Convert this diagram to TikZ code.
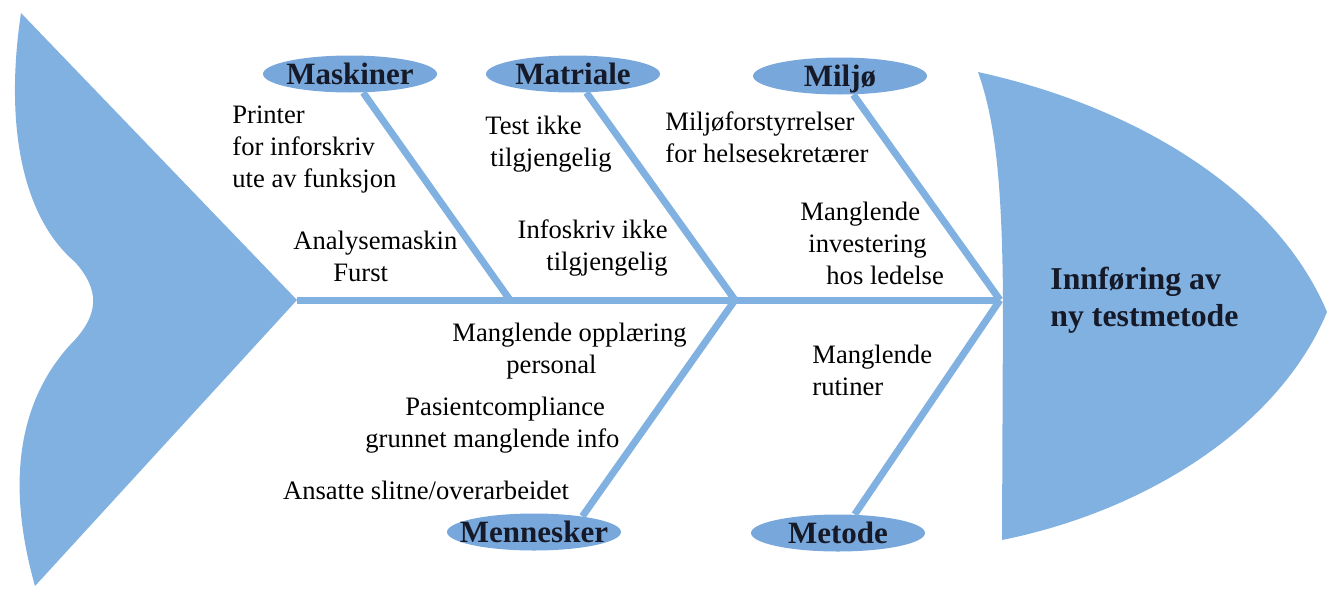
\documentclass[tikz,border=0pt]{standalone}
\usepackage{fontspec}
\setmainfont{Liberation Serif}
\usetikzlibrary{shapes.geometric}
\definecolor{fishblue}{RGB}{128,177,225}
\definecolor{capblue}{RGB}{120,168,219}
\definecolor{inkdark}{RGB}{22,26,40}

\begin{document}
\begin{tikzpicture}[x=0.5pt, y=-0.5pt,
    cause/.style={ellipse, fill=capblue, minimum width=87pt, minimum height=18.5pt,
        inner sep=0pt, text height=10pt, text depth=0pt, text=inkdark,
        font=\fontsize{15.5}{18}\selectfont\bfseries},
    bone/.style={draw=fishblue, line width=3.5pt},
    note/.style={font=\fontsize{13.3}{16}\selectfont, inner sep=0pt}]
    \useasboundingbox (0,0) rectangle (1342,589);

    % draw tail
    \fill[fishblue] (21,13) -- (297,300) -- (35,586)
        .. controls (5,480) and (20,400) .. (70,345)
        .. controls (100,315) and (100,290) .. (75,262)
        .. controls (20,215) and (5,120) .. (21,13) -- cycle;
    % draw head
    \fill[fishblue] (978,72) .. controls (1150,110) and (1280,200) .. (1327,312)
        .. controls (1280,425) and (1150,510) .. (1002,540)
        -- (1003,300) .. controls (1002,180) and (995,120) .. (978,72) -- cycle;
    \node[font=\fontsize{15.9}{18.5}\selectfont\bfseries, text=inkdark, align=left,
        anchor=west, inner sep=0pt] (effect) at (1050,300) {Innføring av\\ny testmetode};

    % spine and joints
    \coordinate (tailtip) at (297,300);
    \coordinate (jmask) at (510,300);
    \coordinate (jmatr) at (735,300);
    \coordinate (jmilj) at (1000,300);
    \draw[bone] (tailtip) -- (jmilj);

    % draw cause ellipses
    \foreach \name/\x/\y/\txt in {mask/350/74/Maskiner, matr/573/74/Matriale,
            milj/840/76/Miljø, mens/534/532/Mennesker, meto/838/533/Metode}
        \node[cause] (\name) at (\x,\y) {\makebox[0pt]{\txt}};

    % draw bones
    \draw[bone] (jmask) -- (mask);
    \draw[bone] (jmatr) -- (matr);
    \draw[bone] (jmilj) -- (milj);
    \draw[bone] (jmatr) -- (mens.18);
    \draw[bone] (jmilj) -- (meto.48);

    % causes
    \node[note, anchor=west, align=left] (printer) at (232,150) {Printer\\for inforskriv\\ute av funksjon};
    \node[note, anchor=west, align=left] (analyse) at (293,256) {Analysemaskin\\\hspace{20pt}Furst};
    \node[note, anchor=west, align=left] (testikke) at (485,144) {Test ikke\\\hspace{2.5pt}tilgjengelig};
    \node[note, anchor=east, align=right] (infoskriv) at (668,248) {Infoskriv ikke\\tilgjengelig};
    \node[note, anchor=west, align=left] (forstyr) at (665,137) {Miljøforstyrrelser\\for helsesekretærer};
    \node[note, anchor=west, align=left] (invest) at (800,243) {Manglende\\\hspace{4pt}investering\\\hspace{13pt}hos ledelse};
    \node[note, anchor=west, align=left] (opplaer) at (452,351) {Manglende opplæring\\\hspace{27pt}personal};
    \node[note, anchor=west, align=left] (pasient) at (365,425) {\hspace{20pt}Pasientcompliance\\grunnet manglende info};
    \node[note] (ansatte) at (426,490) {Ansatte slitne/overarbeidet};
    \node[note, anchor=west, align=left] (rutiner) at (812,370) {Manglende\\rutiner};
\end{tikzpicture}
\end{document}
